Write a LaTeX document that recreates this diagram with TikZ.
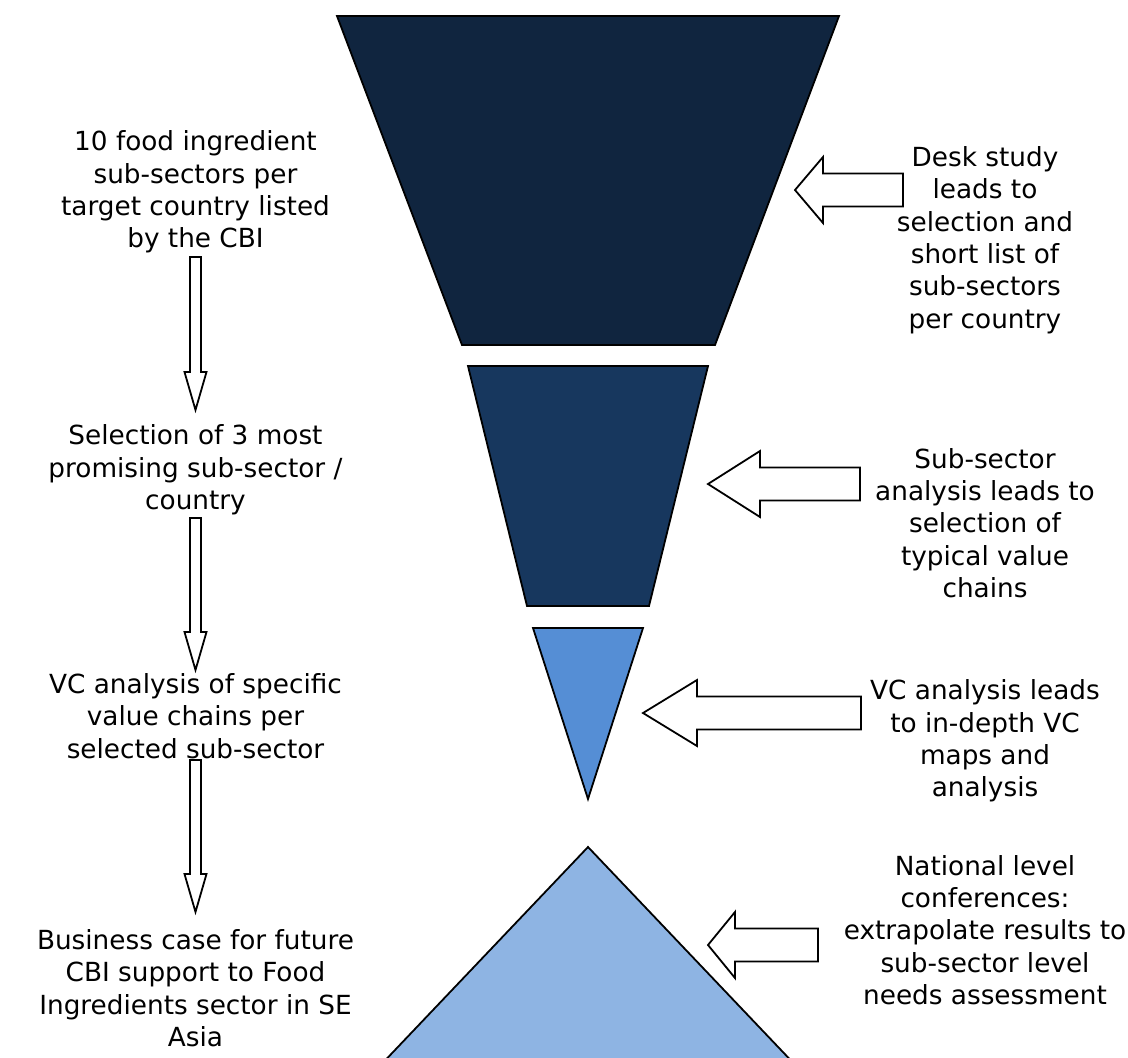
\documentclass[tikz,border=0pt]{standalone}
\usepackage{fontspec}
\setmainfont{DejaVu Sans}
\begin{document}
\begin{tikzpicture}[x=1pt,y=-1pt,
  funnel/.style={draw=black,line width=1.8pt,line join=miter},
  blockarrow/.style={draw=black,line width=1.8pt,fill=white,line join=miter},
  label/.style={align=center,inner sep=0pt,font=\fontsize{26.3}{32.4}\selectfont}]
\useasboundingbox (0,0) rectangle (1128,1058);
\definecolor{stageA}{HTML}{10253F}
\definecolor{stageB}{HTML}{17375E}
\definecolor{stageC}{HTML}{558ED5}
\definecolor{stageD}{HTML}{8EB4E3}

% funnel stages
\draw[funnel,fill=stageA] (337,16) -- (839,16) -- (715,345) -- (462,345) -- cycle;
\draw[funnel,fill=stageB] (468,366) -- (708,366) -- (649,606) -- (527,606) -- cycle;
\draw[funnel,fill=stageC] (533,628) -- (643,628) -- (588,799) -- cycle;
\draw[funnel,fill=stageD] (588,847) -- (800,1070) -- (376,1070) -- cycle;

% left column texts
\node[label] (l1) at (195.5,192) {10 food ingredient\\sub-sectors per\\target country listed\\by the CBI};
\node[label] (l2) at (195.5,470) {Selection of 3 most\\promising sub-sector /\\country};
\node[label] (l3) at (195.5,716) {VC analysis of specific\\value chains per\\selected sub-sector};
\node[label] (l4) at (195.5,988) {Business case for future\\CBI support to Food\\Ingredients sector in SE\\Asia};

% downward block arrows between the left texts
\foreach \top/\tip in {257/410,518/670,760/912}{
  \draw[blockarrow] (190,\top) -- (201,\top) -- (201,\tip-38) -- (206.5,\tip-38)
    -- (195.5,\tip) -- (184.5,\tip-38) -- (190,\tip-38) -- cycle;
}

% right column texts
\node[label] (r1) at (985,240) {Desk study\\leads to\\selection and\\short list of\\sub-sectors\\per country};
\node[label] (r2) at (985,523) {Sub-sector\\analysis leads to\\selection of\\typical value\\chains};
\node[label] (r3) at (985,741) {VC analysis leads\\to in-depth VC\\maps and\\analysis};
\node[label] (r4) at (985,930) {National level\\conferences:\\extrapolate results to\\sub-sector level\\needs assessment};

% leftward block arrows pointing at the stages
% tip x, tip y, head back x, right end x
\foreach \tx/\ty/\hx/\ex in {795/190/823/903,708/484/760/860,643/713/697/861,708/945/735/818}{
  \draw[blockarrow] (\tx,\ty) -- (\hx,\ty-33) -- (\hx,\ty-16.5) -- (\ex,\ty-16.5)
    -- (\ex,\ty+16.5) -- (\hx,\ty+16.5) -- (\hx,\ty+33) -- cycle;
}
\end{tikzpicture}
\end{document}
